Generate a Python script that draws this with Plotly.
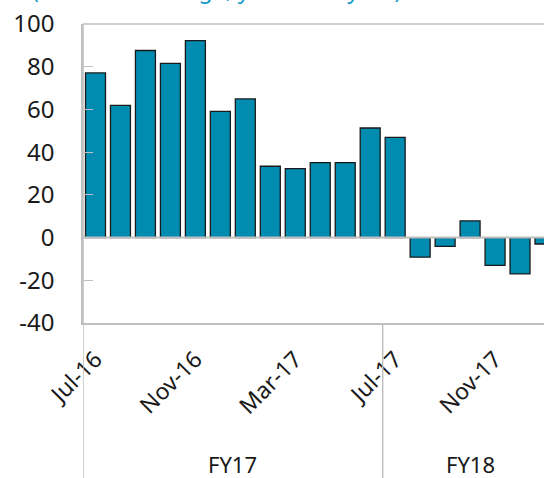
import plotly.graph_objects as go

months = ["Jul-16", "Aug-16", "Sep-16", "Oct-16", "Nov-16", "Dec-16",
          "Jan-17", "Feb-17", "Mar-17", "Apr-17", "May-17", "Jun-17",
          "Jul-17", "Aug-17", "Sep-17", "Oct-17", "Nov-17", "Dec-17", "Jan-18"]
values = [77.1, 61.9, 87.6, 81.6, 92.2, 59.1, 64.9, 33.4, 32.3, 35.1, 35.1, 51.3,
          46.9, -9.2, -4.1, 7.8, -13.0, -17.0, -3.0]
tick_labels = ["Jul-16", "Nov-16", "Mar-17", "Jul-17", "Nov-17"]
y_ticks = [-40, -20, 0, 20, 40, 60, 80, 100]
y_tick_text = ["-40", "-20", "0", "20", "40", "60", "80", "100"]
fiscal_years = ["FY17", "FY18"]
fy_centers = [5.5, 15]
fy_edges = [-0.5, 11.5]
title_text = "(Annual % change, year-over-year)"

GRAY = "#bfbfbf"
FONT = "Noto Sans"

fig = go.Figure()
fig.add_trace(go.Bar(
    x=months, y=values,
    marker=dict(color="#008bb0", line=dict(color="#1a1a1a", width=1.3)),
    width=0.8,
))

H_PLOT = 478 - 24 - 154.5
bottom_paper = -154.5 / H_PLOT - 0.01

shapes = []
shapes.append(dict(type="line", xref="paper", yref="paper", x0=0, x1=1, y0=1, y1=1,
                   line=dict(color=GRAY, width=1.5)))
shapes.append(dict(type="line", xref="paper", yref="y", x0=0, x1=1, y0=0, y1=0,
                   line=dict(color=GRAY, width=2), layer="above"))
for e in fy_edges:
    shapes.append(dict(type="line", xref="x", yref="paper", x0=e, x1=e,
                       y0=1 if e == fy_edges[0] else 0,
                       y1=bottom_paper, line=dict(color=GRAY, width=1.5)))

annotations = []
for fy, c in zip(fiscal_years, fy_centers):
    annotations.append(dict(x=c, xref="x", y=(323.5 - 465) / H_PLOT, yref="paper",
                            text=fy, showarrow=False,
                            font=dict(size=22, color="#1a1a1a", family=FONT),
                            xanchor="center", yanchor="middle"))
annotations.append(dict(x=-83 / 461, xref="paper", y=1 + (24 - 6.5) / H_PLOT, yref="paper",
                        text=title_text, showarrow=False, xanchor="left", yanchor="bottom",
                        xshift=30, font=dict(size=23, color="#1a9bcb", family=FONT)))

fig.update_layout(
    width=544, height=478,
    margin=dict(l=83, r=0, t=24, b=154.5),
    paper_bgcolor="white", plot_bgcolor="white",
    showlegend=False,
    font=dict(family=FONT, color="#1a1a1a"),
    shapes=shapes, annotations=annotations,
    bargap=0.2,
)
fig.update_xaxes(
    type="category",
    range=[-0.5, 17.96],
    tickmode="array", tickvals=tick_labels, ticktext=tick_labels,
    tickangle=-45, ticks="", showgrid=False, zeroline=False,
    showline=True, linecolor=GRAY, linewidth=1.5,
    ticklabelstandoff=12,
    tickfont=dict(size=23, color="#1a1a1a", family=FONT),
)
fig.update_yaxes(
    range=[-40, 100], tickmode="array", tickvals=y_ticks, ticktext=y_tick_text,
    showgrid=False, zeroline=False,
    showline=True, linecolor=GRAY, linewidth=1.5,
    ticks="inside", ticklen=10, tickcolor=GRAY, tickwidth=1,
    ticklabelstandoff=22,
    tickfont=dict(size=24, color="#1a1a1a", family=FONT),
)

fig.write_html("out.html", config={"displayModeBar": False},
               post_script="document.body.style.margin='0';document.body.style.overflow='hidden';")
